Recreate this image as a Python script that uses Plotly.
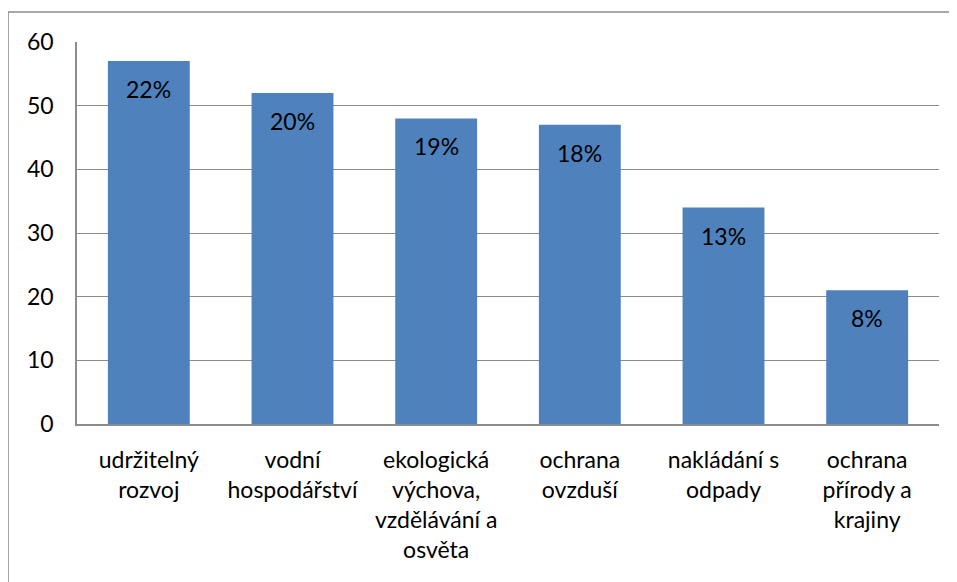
import plotly.graph_objects as go

categories = ["udržitelný<br>rozvoj", "vodní<br>hospodářství", "ekologická<br>výchova,<br>vzdělávání a<br>osvěta",
              "ochrana<br>ovzduší", "nakládání s<br>odpady", "ochrana<br>přírody a<br>krajiny"]
values = [57, 52, 48, 47, 34, 21]
pct_labels = ["22%", "20%", "19%", "18%", "13%", "8%"]
y_ticks = [0, 10, 20, 30, 40, 50, 60]

FONT = "Lato"
FS = 23

fig = go.Figure()
fig.add_trace(go.Bar(x=categories, y=values, marker=dict(color="#4F81BD", line=dict(width=0)), width=0.57))

for c, v, t in zip(categories, values, pct_labels):
    fig.add_annotation(x=c, y=v, text=t, showarrow=False, yshift=-28,
                       font=dict(family=FONT, size=FS, color="black"))

fig.add_shape(type="rect", xref="paper", yref="paper", x0=-0.080, x1=1.2, y0=-0.6, y1=1.0785,
              line=dict(color="#8c8c8c", width=1.5), fillcolor="rgba(0,0,0,0)", layer="below")

fig.update_layout(
    width=957, height=582,
    margin=dict(l=69, r=26, t=34, b=166),
    paper_bgcolor="white", plot_bgcolor="white",
    showlegend=False,
    font=dict(family=FONT, size=FS, color="black"),
    bargap=0.43,
)
fig.update_xaxes(showline=True, linecolor="#8c8c8c", linewidth=1.5, tickangle=0,
                 ticks="", ticklabelstandoff=15, showgrid=False)
fig.update_yaxes(range=[0, 60], tickvals=y_ticks, showgrid=True, gridcolor="#8c8c8c", gridwidth=1,
                 showline=True, linecolor="#8c8c8c", linewidth=1.5, zeroline=False,
                 ticks="", ticklabelstandoff=17)

fig.write_html("out.html")
